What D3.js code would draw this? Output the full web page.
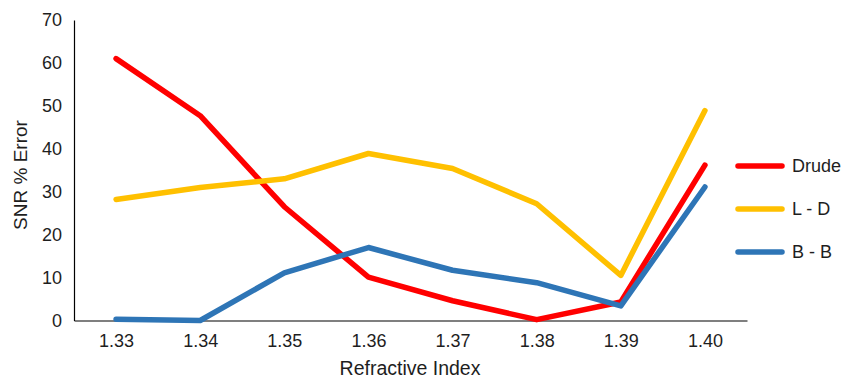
<!DOCTYPE html>
<html>
<head>
<meta charset="utf-8">
<script src="https://cdn.jsdelivr.net/npm/d3@7"></script>
<style>
  body { margin: 0; background: #fff; }
  text { font-family: "Liberation Sans", Arial, sans-serif; fill: #1e1e1e; }
</style>
</head>
<body>
<svg id="chart" width="856" height="379"></svg>
<script>
// 数据
const categories = ['1.33', '1.34', '1.35', '1.36', '1.37', '1.38', '1.39', '1.40'];
const drude = [61, 47.7, 26.5, 10.1, 4.6, 0.2, 4.3, 36.2];
const ld = [28.2, 31, 33, 38.9, 35.4, 27.2, 10.5, 48.9];
const bb = [0.3, 0, 11.1, 17, 11.7, 8.8, 3.4, 31.1];
const yTicks = [0, 10, 20, 30, 40, 50, 60, 70];

const series = [
    { name: 'Drude', values: drude, color: '#ff0000' },
    { name: 'L - D', values: ld, color: '#ffc000' },
    { name: 'B - B', values: bb, color: '#2e75b6' }
];

let svg = d3.select('#chart');
// 绘图区边界
const plotLeft = 74, plotRight = 747, plotTop = 20, plotBottom = 320.5;

let x = d3.scalePoint()
    .domain(categories)
    .range([plotLeft, plotRight])
    .padding(0.5);
let y = d3.scaleLinear()
    .domain([0, 70])
    .range([plotBottom, plotTop]);

// y轴
let yAxis = svg.append('g')
    .attr('transform', `translate(${plotLeft},0)`)
    .call(d3.axisLeft(y).tickValues(yTicks).tickSize(0).tickPadding(12));
yAxis.select('.domain').attr('stroke', '#000').attr('stroke-width', 1.2);
yAxis.selectAll('text').style('font-size', '18px').attr('fill', '#1e1e1e')
    .style('font-family', '"Liberation Sans", Arial, sans-serif');

// x轴
let xAxis = svg.append('g')
    .attr('transform', `translate(0,${plotBottom})`)
    .call(d3.axisBottom(x).tickSize(0).tickPadding(14));
xAxis.select('.domain').attr('stroke', '#000').attr('stroke-width', 1.2);
xAxis.selectAll('text').style('font-size', '18px').attr('fill', '#1e1e1e')
    .style('font-family', '"Liberation Sans", Arial, sans-serif');

// 折线
let line = d3.line()
    .x((d, i) => x(categories[i]))
    .y(d => y(d));

svg.append('g')
    .selectAll('path')
    .data(series)
    .join('path')
    .attr('fill', 'none')
    .attr('stroke', d => d.color)
    .attr('stroke-width', 5.5)
    .attr('stroke-linejoin', 'round')
    .attr('stroke-linecap', 'round')
    .attr('d', d => line(d.values));

// 轴标题
svg.append('text')
    .attr('transform', 'translate(27,175) rotate(-90)')
    .attr('text-anchor', 'middle')
    .style('font-size', '19px')
    .text('SNR % Error');

svg.append('text')
    .attr('x', 410)
    .attr('y', 375)
    .attr('text-anchor', 'middle')
    .style('font-size', '19.5px')
    .text('Refractive Index');

// 图例
let legend = svg.append('g')
    .selectAll('g')
    .data(series)
    .join('g')
    .attr('transform', (d, i) => `translate(738,${166 + i * 43})`);
legend.append('line')
    .attr('x1', 0).attr('x2', 44)
    .attr('stroke', d => d.color)
    .attr('stroke-width', 5.5)
    .attr('stroke-linecap', 'round');
legend.append('text')
    .attr('x', 54)
    .attr('dy', '0.35em')
    .style('font-size', '18px')
    .text(d => d.name);
</script>
</body>
</html>
